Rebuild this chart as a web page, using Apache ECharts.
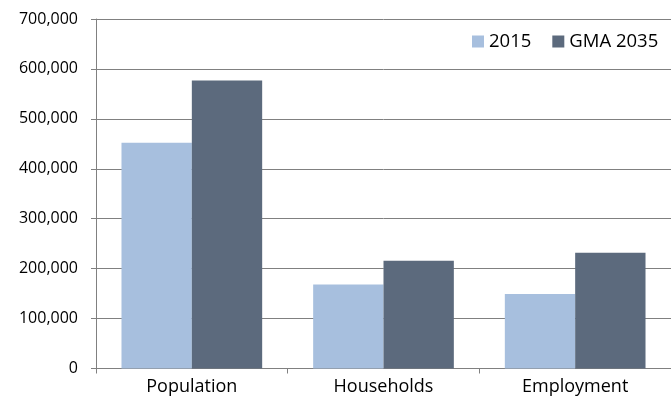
<!DOCTYPE html>
<html>
<head>
<meta charset="utf-8">
<script src="https://cdn.jsdelivr.net/npm/echarts@6/dist/echarts.min.js"></script>
<style>
html,body{margin:0;padding:0;background:#fff;}
#chart{width:671px;height:400px;}
</style>
</head>
<body>
<div id="chart"></div>
<script>
var categories = ['Population', 'Households', 'Employment'];
var seriesNames = ['2015', 'GMA 2035'];
var values2015 = [452000, 168000, 149000];
var valuesGMA2035 = [577000, 216000, 232000];

var chart = echarts.init(document.getElementById('chart'));
var fontFam = '"Open Sans", sans-serif';
chart.setOption({
  animation: false,
  backgroundColor: '#ffffff',
  grid: { left: 96, right: 0, top: 19, bottom: 31.5, containLabel: false },
  legend: {
    data: seriesNames,
    left: 472, top: 32, padding: 0,
    itemWidth: 12, itemHeight: 12, itemGap: 21,
    icon: 'rect',
    textStyle: { fontFamily: fontFam, fontSize: 18.5, color: '#000' }
  },
  xAxis: {
    type: 'category',
    data: categories,
    axisLine: { lineStyle: { color: '#808080', width: 1 } },
    axisTick: { show: true, length: 5, lineStyle: { color: '#808080' } },
    axisLabel: { fontFamily: fontFam, fontSize: 18, color: '#000', margin: 9 }
  },
  yAxis: {
    type: 'value',
    min: 0, max: 700000, interval: 100000,
    axisLine: { show: true, lineStyle: { color: '#808080', width: 1 } },
    axisTick: { show: true, length: 5, lineStyle: { color: '#808080' } },
    splitLine: { lineStyle: { color: '#808080', width: 1 } },
    axisLabel: {
      fontFamily: fontFam, fontSize: 16, color: '#000', margin: 18,
      formatter: function (v) { return v.toLocaleString('en-US'); }
    }
  },
  series: [
    { name: seriesNames[0], type: 'bar', data: values2015, itemStyle: { color: '#A7BFDE' }, barGap: '0%', barCategoryGap: '26.6%' },
    { name: seriesNames[1], type: 'bar', data: valuesGMA2035, itemStyle: { color: '#5C6A7D' }, barGap: '0%', barCategoryGap: '26.6%' }
  ]
});
</script>
</body>
</html>
